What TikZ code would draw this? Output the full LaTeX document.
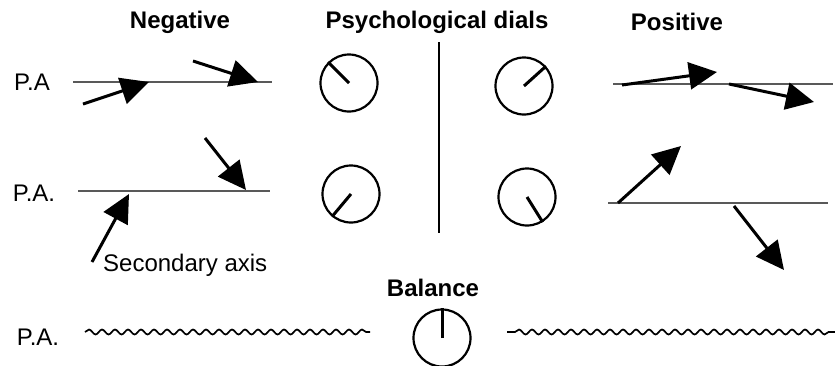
\documentclass[tikz,border=0pt]{standalone}
\usepackage{fontspec}
\setmainfont{Liberation Sans}
\usetikzlibrary{arrows.meta,decorations.pathmorphing}
\begin{document}
\begin{tikzpicture}[x=1pt,y=-1pt,
  head/.style={font=\bfseries\fontsize{24}{28}\selectfont, inner sep=0pt},
  lbl/.style={font=\fontsize{24}{28}\selectfont, inner sep=0pt},
  axisline/.style={draw=black!65, line width=1.2pt},
  vec/.style={line width=3pt, -{Triangle[length=28pt,width=27pt]}},
  dial/.style={circle, draw, line width=2.2pt, minimum size=57pt, inner sep=0pt},
  needle/.style={line width=3pt},
  wave/.style={line width=1.7pt, decorate,
    decoration={snake, segment length=13pt, amplitude=2.5pt}},
]
\useasboundingbox (0,0) rectangle (835,365);

% column headings
\node[head] (hneg) at (180,22) {Negative};
\node[head] (hdial) at (437,22) {Psychological dials};
\node[head] (hpos) at (677,22) {Positive};

% divider between the negative and positive dials
\coordinate (divtop) at (439,42);
\coordinate (divbot) at (439,233);
\draw[line width=2.5pt] (divtop) -- (divbot);

% ---- first row ----
\node[lbl] (pa1) at (32,82) {P.A};
\coordinate (ax1l) at (73,82);
\coordinate (ax1r) at (272,82);
\draw[axisline] (ax1l) -- (ax1r);
\coordinate (n1a) at (83,104);  \coordinate (n1b) at (149,82);
\coordinate (n2a) at (193,61);  \coordinate (n2b) at (258,82);
\draw[vec] (n1a) -- (n1b);
\draw[vec] (n2a) -- (n2b);

\node[dial] (d1) at (349,83) {};
\draw[needle] (d1.center) -- (d1.135);
\node[dial] (d2) at (524,86) {};
\draw[needle] (d2.center) -- (d2.42);

\coordinate (ax3l) at (613,84);
\coordinate (ax3r) at (833,84);
\draw[axisline] (ax3l) -- (ax3r);
\coordinate (p1a) at (622,85);  \coordinate (p1b) at (717,72);
\coordinate (p2a) at (729,84);  \coordinate (p2b) at (814,102);
\draw[vec] (p1a) -- (p1b);
\draw[vec] (p2a) -- (p2b);

% ---- second row ----
\node[lbl] (pa2) at (34,193) {P.A.};
\coordinate (ax2l) at (78,191);
\coordinate (ax2r) at (270,191);
\draw[axisline] (ax2l) -- (ax2r);
\coordinate (n3a) at (92,262);  \coordinate (n3b) at (129,194);
\coordinate (n4a) at (205,138); \coordinate (n4b) at (246,190);
\draw[vec] (n3a) -- (n3b);
\draw[vec] (n4a) -- (n4b);
\node[lbl, anchor=west] (sec) at (103,265) {Secondary axis};

\node[dial] (d3) at (351,194) {};
\draw[needle] (d3.center) -- (d3.230);
\node[dial] (d4) at (527,197) {};
\draw[needle] (d4.center) -- (d4.302);

\coordinate (ax4l) at (608,203);
\coordinate (ax4r) at (828,203);
\draw[axisline] (ax4l) -- (ax4r);
\coordinate (p3a) at (618,203); \coordinate (p3b) at (681,146);
\coordinate (p4a) at (734,206); \coordinate (p4b) at (784,270);
\draw[vec] (p3a) -- (p3b);
\draw[vec] (p4a) -- (p4b);

% ---- balance row ----
\node[head] (hbal) at (433,288) {Balance};
\node[lbl] (pa3) at (38,337) {P.A.};
\coordinate (w1l) at (85,332);
\coordinate (w1r) at (370,332);
\draw[wave] (w1l) -- (w1r);
\node[dial] (d5) at (442,338) {};
\draw[needle] (d5.center) -- (d5.90);
\coordinate (w2l) at (507,332);
\coordinate (w2r) at (835,332);
\draw[wave, decoration={pre length=8pt}] (w2l) -- (w2r);
\end{tikzpicture}
\end{document}
